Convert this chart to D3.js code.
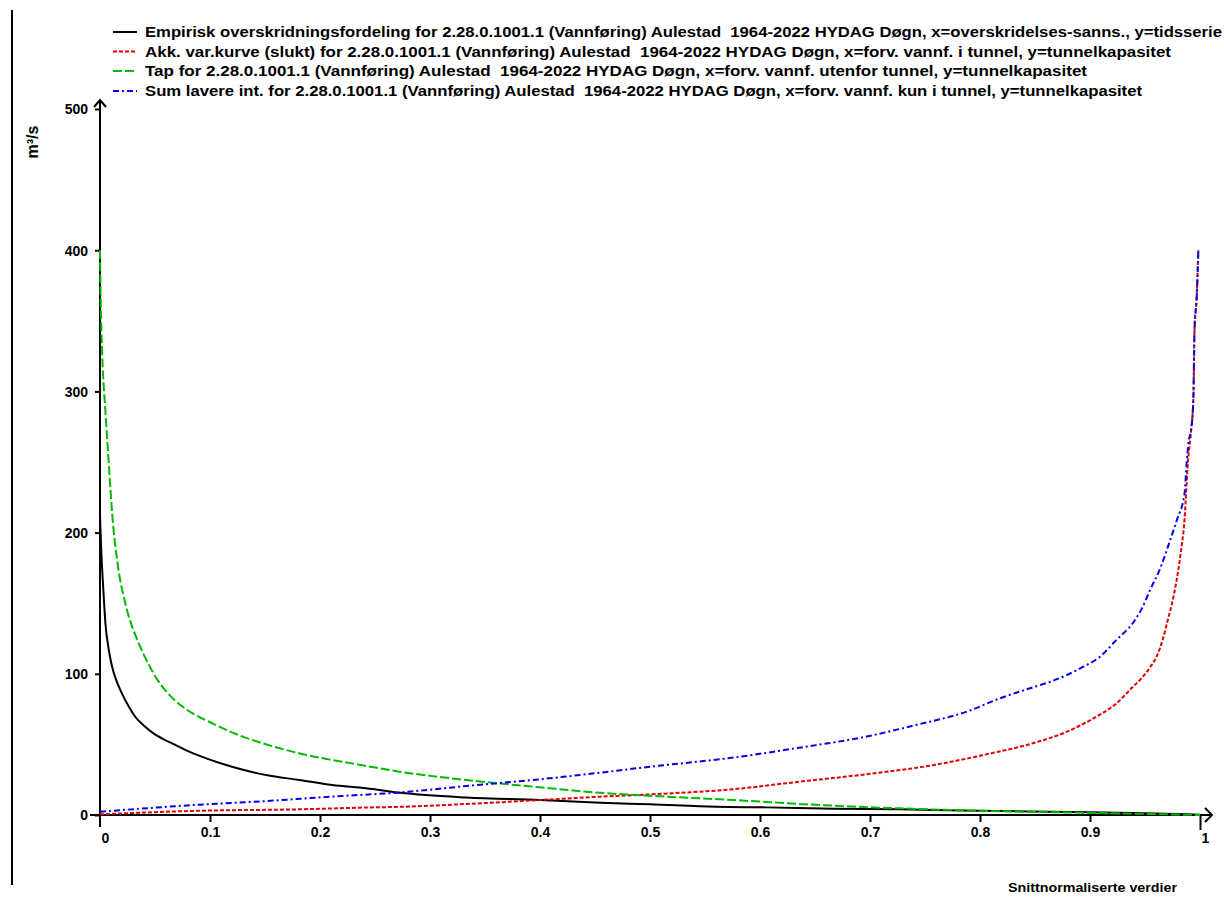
<!DOCTYPE html>
<html>
<head>
<meta charset="utf-8">
<script src="https://cdn.jsdelivr.net/npm/d3@7"></script>
<style>
  html, body { margin: 0; padding: 0; background: #fff; }
  svg { display: block; }
  text { font-family: "Liberation Sans", Arial, Helvetica, sans-serif; font-weight: bold; fill: #000; white-space: pre; }
</style>
</head>
<body>
<svg id="chart" width="1224" height="900"></svg>
<script>
// ---------- DATA ----------
const legendLabels = [
  "Empirisk overskridningsfordeling for 2.28.0.1001.1 (Vannføring) Aulestad  1964-2022 HYDAG Døgn, x=overskridelses-sanns., y=tidsserie",
  "Akk. var.kurve (slukt) for 2.28.0.1001.1 (Vannføring) Aulestad  1964-2022 HYDAG Døgn, x=forv. vannf. i tunnel, y=tunnelkapasitet",
  "Tap for 2.28.0.1001.1 (Vannføring) Aulestad  1964-2022 HYDAG Døgn, x=forv. vannf. utenfor tunnel, y=tunnelkapasitet",
  "Sum lavere int. for 2.28.0.1001.1 (Vannføring) Aulestad  1964-2022 HYDAG Døgn, x=forv. vannf. kun i tunnel, y=tunnelkapasitet"
];
const yTicks = [0, 100, 200, 300, 400, 500];
const xTicks = [0, 0.1, 0.2, 0.3, 0.4, 0.5, 0.6, 0.7, 0.8, 0.9, 1];
const xTickLabels = ["0", "0.1", "0.2", "0.3", "0.4", "0.5", "0.6", "0.7", "0.8", "0.9", "1"];
const yTitle = "m³/s";
const xTitle = "Snittnormaliserte verdier";

// Empirisk overskridningsfordeling (black)
const empX = [0, 0.001, 0.003, 0.005, 0.008, 0.011, 0.015, 0.020, 0.026, 0.032, 0.040, 0.048, 0.058, 0.066, 0.078, 0.090, 0.120, 0.151, 0.181, 0.211, 0.242, 0.273, 0.333, 0.400, 0.455, 0.500, 0.560, 0.606, 0.667, 0.727, 0.800, 0.900, 0.950, 1.000];
const empY = [212, 190, 160, 135, 117, 105, 95, 86, 77, 69.6, 63.2, 58.2, 53.6, 50.6, 46, 42, 34.2, 28.3, 24.8, 21.2, 18.9, 15.7, 12.4, 10.6, 8.7, 7.6, 5.9, 5.4, 4.5, 4.0, 3.0, 2.0, 1.2, 0.2];

// Akk. var.kurve (red)
const akkX = [0, 0.090, 0.180, 0.242, 0.273, 0.333, 0.400, 0.455, 0.500, 0.576, 0.636, 0.697, 0.758, 0.803, 0.848, 0.879, 0.903, 0.924, 0.939, 0.947, 0.955, 0.961, 0.966, 0.970, 0.976, 0.982, 0.986, 0.989, 0.992, 0.994, 0.995, 0.997, 0.9985];
const akkY = [0.5, 3, 4, 5.3, 5.8, 7.8, 10.6, 13, 14.6, 18.3, 23.6, 28.9, 35.4, 42.5, 50.8, 59, 68.4, 79, 90.8, 97, 105, 113, 124, 136, 155, 183, 210, 250, 273, 296, 343, 367, 400];

// Tap (green)
const tapX = [0, 0.0006, 0.002, 0.005, 0.008, 0.011, 0.016, 0.023, 0.035, 0.044, 0.052, 0.065, 0.078, 0.090, 0.102, 0.120, 0.139, 0.160, 0.181, 0.211, 0.240, 0.272, 0.333, 0.400, 0.455, 0.500, 0.576, 0.636, 0.727, 0.800, 0.900, 0.950, 1.000];
const tapY = [400, 367, 327, 285, 249, 214, 178, 150, 122, 107, 96, 83.5, 75, 69.5, 65, 58.5, 53, 48, 43.7, 39, 35, 30.7, 24.8, 19.6, 15.7, 13.6, 10.6, 7.8, 4.7, 3.0, 1.5, 0.8, 0];

// Sum lavere int. (blue)
const sumX = [0, 0.090, 0.150, 0.210, 0.273, 0.333, 0.400, 0.455, 0.500, 0.576, 0.636, 0.697, 0.742, 0.788, 0.818, 0.848, 0.864, 0.894, 0.909, 0.924, 0.939, 0.947, 0.955, 0.964, 0.973, 0.979, 0.986, 0.988, 0.990, 0.992, 0.994, 0.995, 0.997, 0.9985];
const sumY = [2.3, 7.3, 9.8, 13, 16, 20.5, 25.3, 30, 34.2, 40.7, 47.7, 55.6, 63.8, 73.2, 82.6, 90.4, 94.4, 105, 112, 124, 136, 146, 160, 175, 195, 209, 228, 251, 266, 273, 296, 343, 367, 400];

// ---------- DRAW ----------
const svg = d3.select("#chart");
svg.append("rect").attr("width", 1224).attr("height", 900).attr("fill", "#fff");

const x = d3.scaleLinear().domain([0, 1]).range([100, 1200]);
const y = d3.scaleLinear().domain([0, 500]).range([815, 109]);

// left border line
svg.append("line").attr("x1", 12).attr("x2", 12).attr("y1", 10).attr("y2", 885)
  .attr("stroke", "#000").attr("stroke-width", 2);

const series = [
  {xs: empX, ys: empY, color: "#000000", dash: null},
  {xs: akkX, ys: akkY, color: "#e00000", dash: "4,2"},
  {xs: tapX, ys: tapY, color: "#00bb00", dash: "9,3"},
  {xs: sumX, ys: sumY, color: "#0000ee", dash: "6,3,2,3"}
];

const line = d3.line().x(d => x(d[0])).y(d => y(d[1])).curve(d3.curveMonotoneX);

// axes
const yAxisG = svg.append("g").attr("transform", "translate(100,0)")
  .call(d3.axisLeft(y).tickValues(yTicks).tickSize(5).tickFormat(d3.format("d")));
yAxisG.select(".domain").remove();
yAxisG.selectAll(".tick line").attr("stroke", "#000").attr("stroke-width", 2);
yAxisG.selectAll(".tick text").attr("x", -12).attr("dy", "0.35em")
  .style("font-size", "14px").style("font-family", "'Liberation Sans', Arial, sans-serif").style("font-weight", "bold");

const xAxisG = svg.append("g").attr("transform", "translate(0,815)")
  .call(d3.axisBottom(x).tickValues(xTicks).tickSize(7).tickFormat((d, i) => xTickLabels[i]));
xAxisG.select(".domain").remove();
xAxisG.selectAll(".tick line").attr("stroke", "#000").attr("stroke-width", 2)
  .attr("y2", (d, i) => (i === xTicks.length - 1 ? 15 : (i === 0 ? 0 : 7)));
xAxisG.selectAll(".tick text")
  .attr("y", (d, i) => (i === 0 || i === xTicks.length - 1) ? 28 : 22)
  .attr("x", (d, i) => (i === 0 || i === xTicks.length - 1) ? 5 : 0)
  .attr("dy", 0)
  .style("font-size", "14px").style("font-family", "'Liberation Sans', Arial, sans-serif").style("font-weight", "bold");

// axis lines with arrows
svg.append("line").attr("x1", 100).attr("x2", 100).attr("y1", 827).attr("y2", 100)
  .attr("stroke", "#000").attr("stroke-width", 2);
svg.append("polyline").attr("points", "94,107 100,100 106,107")
  .attr("fill", "none").attr("stroke", "#000").attr("stroke-width", 2);
svg.append("line").attr("x1", 90).attr("x2", 1212).attr("y1", 815).attr("y2", 815)
  .attr("stroke", "#000").attr("stroke-width", 2);
svg.append("polyline").attr("points", "1205,808 1212,815 1205,822")
  .attr("fill", "none").attr("stroke", "#000").attr("stroke-width", 2);

// series
series.forEach(s => {
  const pts = s.xs.map((v, i) => [v, s.ys[i]]);
  svg.append("path").datum(pts).attr("d", line)
    .attr("fill", "none").attr("stroke", s.color).attr("stroke-width", 2)
    .attr("stroke-dasharray", s.dash);
});

// axis titles
svg.append("text").attr("transform", "translate(38,142) rotate(-90)")
  .attr("text-anchor", "middle").style("font-size", "16px").text(yTitle);
svg.append("text").attr("x", 1008).attr("y", 892).attr("textLength", 169)
  .attr("lengthAdjust", "spacingAndGlyphs").style("font-size", "13px").text(xTitle);

// legend
const legendY = [32, 51.5, 71, 91];
const legendEnd = [1222, 1171, 1087, 1142];
const lg = svg.append("g");
series.forEach((s, i) => {
  lg.append("line").attr("x1", 113).attr("x2", 137).attr("y1", legendY[i]).attr("y2", legendY[i])
    .attr("stroke", s.color).attr("stroke-width", 2).attr("stroke-dasharray", s.dash);
  lg.append("text").attr("x", 145).attr("y", legendY[i] + 5)
    .attr("textLength", legendEnd[i] - 145).attr("lengthAdjust", "spacingAndGlyphs")
    .style("font-size", "14px").text(legendLabels[i]);
});
</script>
</body>
</html>
